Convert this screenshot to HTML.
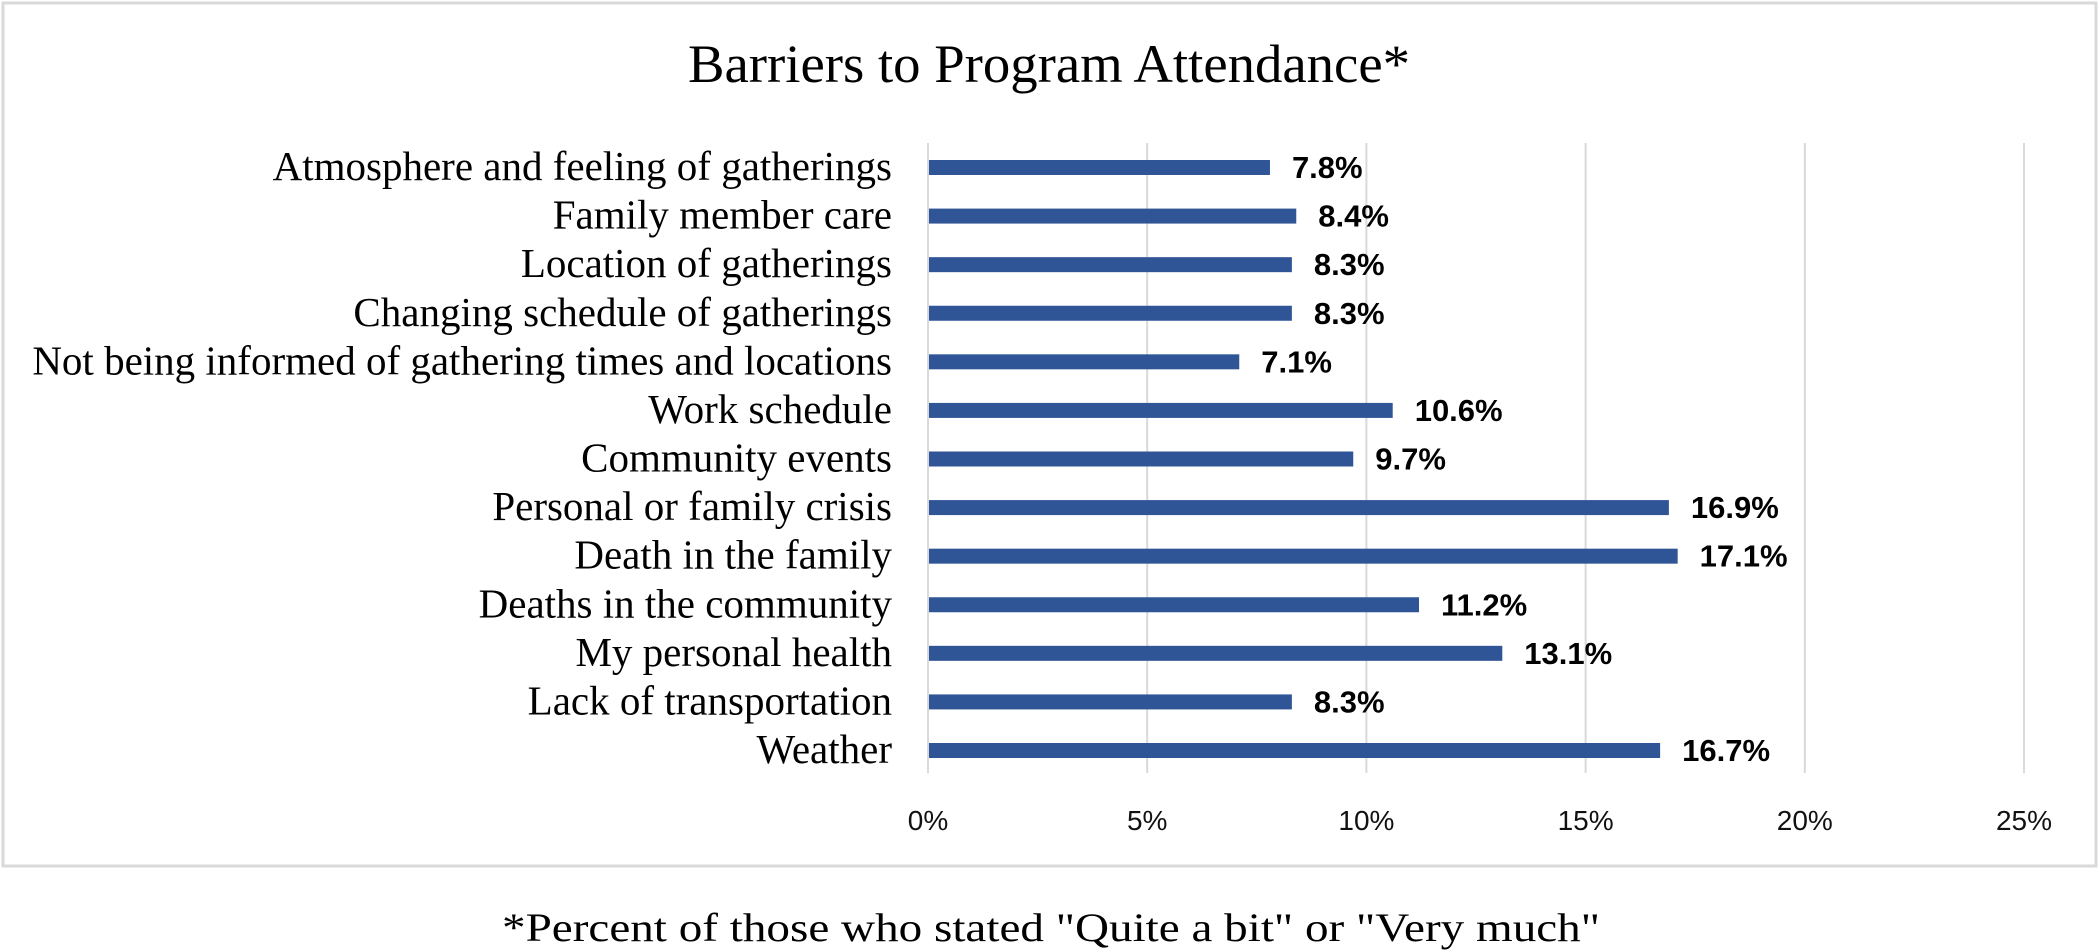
<!DOCTYPE html>
<html><head><meta charset="utf-8"><style>
html,body{margin:0;padding:0;background:#fff;}
svg{display:block;}
</style></head><body>
<svg id="chart" width="2100" height="951" viewBox="0 0 2100 951" xmlns="http://www.w3.org/2000/svg">
<rect x="3" y="3" width="2093" height="863" fill="#fff" stroke="#d9d9d9" stroke-width="3"/>
<text x="1049" y="82" font-family="Liberation Serif, serif" font-size="54" text-anchor="middle" textLength="722" lengthAdjust="spacingAndGlyphs">Barriers to Program Attendance*</text>
<g id="grid"></g>
<g id="bars"></g>
<text x="1051" y="941" font-family="Liberation Serif, serif" font-size="40" text-anchor="middle" textLength="1098" lengthAdjust="spacingAndGlyphs">*Percent of those who stated "Quite a bit" or "Very much"</text>
</svg>
<script>
const categories = ["Atmosphere and feeling of gatherings","Family member care","Location of gatherings","Changing schedule of gatherings","Not being informed of gathering times and locations","Work schedule","Community events","Personal or family crisis","Death in the family","Deaths in the community","My personal health","Lack of transportation","Weather"];
const values = [7.8,8.4,8.3,8.3,7.1,10.6,9.7,16.9,17.1,11.2,13.1,8.3,16.7];
const valueLabels = ["7.8%","8.4%","8.3%","8.3%","7.1%","10.6%","9.7%","16.9%","17.1%","11.2%","13.1%","8.3%","16.7%"];
const ticks = [0,5,10,15,20,25];
const tickLabels = ["0%","5%","10%","15%","20%","25%"];

const NS="http://www.w3.org/2000/svg";
const x0=928, x1=2024, xmax=25;
const yTop=143, yBot=773, firstY=167, lastY=750;
function xs(v){return x0+(v/xmax)*(x1-x0);}
function ys(i){return firstY+i*(lastY-firstY)/(categories.length-1);}
function mk(tag,attrs,parent){const e=document.createElementNS(NS,tag);for(const k in attrs)e.setAttribute(k,attrs[k]);parent.appendChild(e);return e;}
const grid=document.getElementById('grid'), bars=document.getElementById('bars');
ticks.forEach((t,i)=>{
  const l=mk('line',{x1:xs(t),x2:xs(t),y1:yTop,y2:yBot,stroke:'#d9d9d9','stroke-width':2},grid);
  
  
  const tx=mk('text',{x:xs(t),y:830,'font-family':'Liberation Sans, sans-serif','font-size':28,'text-anchor':'middle',fill:'#111'},grid);
  tx.textContent=tickLabels[i];
  
  
});
categories.forEach((c,i)=>{
  const y=ys(i);
  const lab=mk('text',{x:892,y:y+13,'font-family':'Liberation Serif, serif','font-size':41,'text-anchor':'end',fill:'#000'},bars);
  lab.textContent=c;
  
  
  const r=mk('rect',{x:x0+1,y:y-7,width:xs(values[i])-x0-1,height:15,fill:'#2F5597'},bars);
  
  
  const v=mk('text',{x:xs(values[i])+22,y:y+11,'font-family':'Liberation Sans, sans-serif','font-size':31,'font-weight':'bold',fill:'#000'},bars);
  v.textContent=valueLabels[i];
  
  
});
</script>
</body></html>
